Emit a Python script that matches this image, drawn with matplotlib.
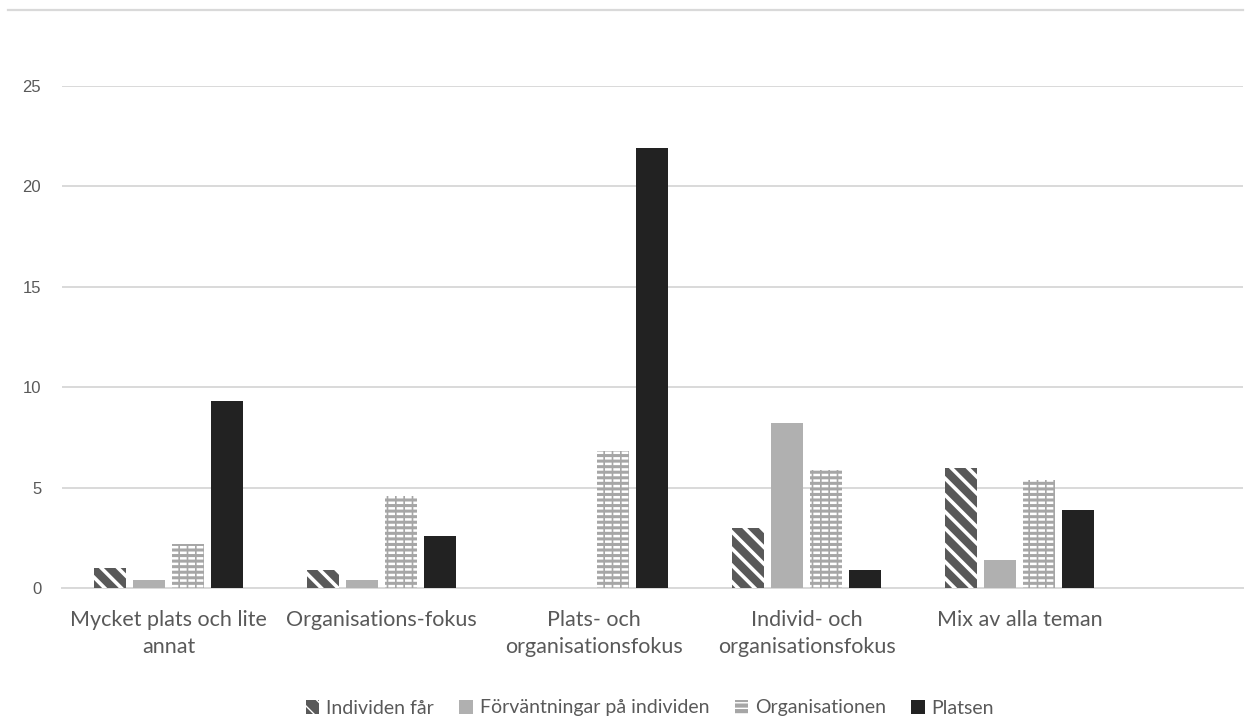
import matplotlib
matplotlib.use("Agg")
import matplotlib.pyplot as plt
from matplotlib.lines import Line2D
import numpy as np

categories = [
    "Mycket plats och lite\nannat",
    "Organisations-fokus",
    "Plats- och\norganisationsfokus",
    "Individ- och\norganisationsfokus",
    "Mix av alla teman",
]
series_names = ["Individen får", "Förväntningar på individen", "Organisationen", "Platsen"]
individen_far = [1.0, 0.9, 0.0, 3.0, 6.0]
forvantningar = [0.4, 0.4, 0.0, 8.2, 1.4]
organisationen = [2.2, 4.6, 6.8, 5.9, 5.4]
platsen = [9.3, 2.6, 21.9, 0.9, 3.9]
y_ticks = [0, 5, 10, 15, 20, 25]

plt.rcParams["font.family"] = ["Lato", "DejaVu Sans"]
grid_col = "#d9d9d9"
text_col = "#595959"

fig = plt.figure(figsize=(12.47, 7.19), dpi=100)
ax = fig.add_axes([62 / 1247, 1 - 588 / 719, (1243 - 62) / 1247, (588 - 86) / 719])

x = np.arange(len(categories))
width = 0.15
step = 0.183
offsets = [(i - 1.5) * step for i in range(4)]


def make_bar(vals, off, **kw):
    hlw = kw.pop("hatch_lw", 1.0)
    with plt.rc_context({"hatch.linewidth": hlw}):
        bc = ax.bar(x + off, vals, width, zorder=3, **kw)
        for p in bc:
            if hasattr(p, "set_hatch_linewidth"):
                p.set_hatch_linewidth(hlw)
    return bc


b1 = make_bar(individen_far, offsets[0], color="#595959", edgecolor="white",
              linewidth=0, hatch="\\\\", hatch_lw=2.6, label=series_names[0])
b2 = make_bar(forvantningar, offsets[1], color="#b0b0b0", linewidth=0,
              label=series_names[1])
b3 = make_bar(organisationen, offsets[2], color="#a6a6a6", edgecolor="white",
              linewidth=0, hatch="---", hatch_lw=1.8, label=series_names[2])
make_bar(organisationen, offsets[2], facecolor="none", edgecolor="#a6a6a6",
         linewidth=0, hatch="||", hatch_lw=1.2)
b4 = make_bar(platsen, offsets[3], color="#222222", linewidth=0,
              label=series_names[3])

ax.set_xlim(-0.5, 5.05)
ax.set_ylim(0, 25)
ax.set_yticks(y_ticks)
ax.set_xticks(x)
ax.set_xticklabels(categories, fontsize=15.5, color=text_col, linespacing=1.45)
ax.tick_params(axis="x", length=0, pad=16)
ax.tick_params(axis="y", length=0, pad=15, labelsize=12, labelcolor=text_col)
for lab in ax.get_yticklabels():
    lab.set_fontfamily(["Liberation Sans Narrow", "Liberation Sans", "DejaVu Sans"])

ax.grid(axis="y", color=grid_col, linewidth=1.4, zorder=0)
for s in ["top", "right", "left"]:
    ax.spines[s].set_visible(False)
ax.spines["bottom"].set_color(grid_col)
ax.spines["bottom"].set_linewidth(1.4)

# border line across the top of the chart
fig.add_artist(Line2D([8 / 1247, 1243 / 1247], [1 - 10 / 719, 1 - 10 / 719],
                      transform=fig.transFigure, color=grid_col, linewidth=1.6))

fig.legend(handles=[b1, b2, b3, b4], labels=series_names, loc="center",
           bbox_to_anchor=(650 / 1247, 1 - 708 / 719), ncol=4, frameon=False,
           fontsize=14, handlelength=0.7, handleheight=0.7,
           handletextpad=0.35, columnspacing=1.3, labelcolor=text_col)

fig.savefig("out.png", dpi=100, facecolor="white")
